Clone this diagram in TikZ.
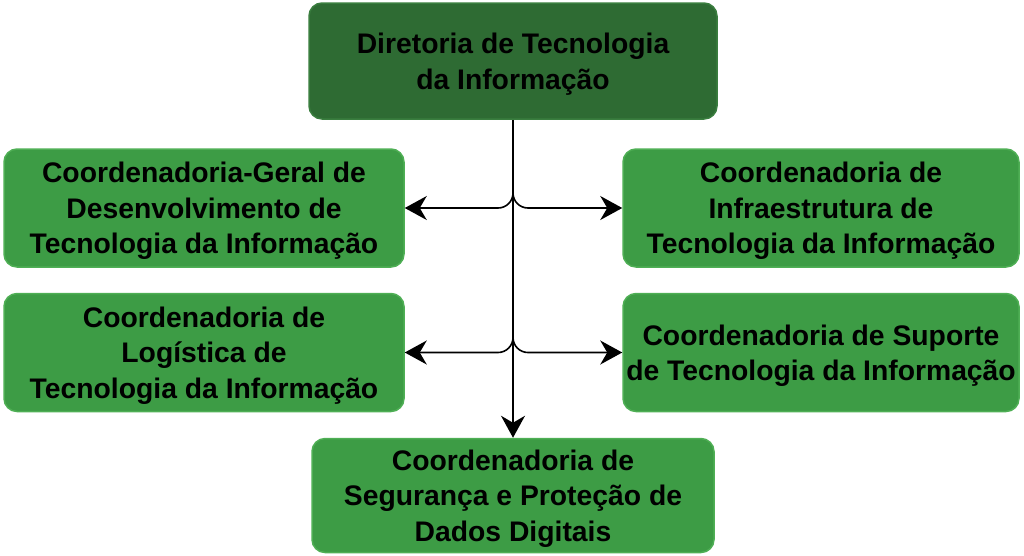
\documentclass[tikz,border=0pt]{standalone}
\usepackage{fontspec}
\setmainfont{Liberation Sans}
\usepackage{xcolor}
\usepackage{tikz}
\usetikzlibrary{positioning,arrows.meta}

\definecolor{verdeesc}{HTML}{2E6B33}
\definecolor{verdeesc2}{HTML}{3A7E3F}
\definecolor{verde}{HTML}{3D9C45}
\definecolor{verde2}{HTML}{4FAF55}

\begin{document}
\begin{tikzpicture}[x=1pt, y=1pt,
  font=\bfseries\fontsize{28.3}{35.5}\selectfont,
  >={Stealth[length=22pt, width=24pt, inset=7pt]},
  dir/.style={draw=verdeesc2, line width=1.5pt, rounded corners=13pt, fill=verdeesc,
              minimum width=408pt, minimum height=116pt, inner sep=2pt, align=center,
              text depth=0pt},
  coord/.style={draw=verde2, line width=1.5pt, rounded corners=13pt, fill=verde,
                minimum width=400pt, minimum height=118pt, inner sep=2pt, align=center,
                text depth=0pt},
  seta/.style={->, line width=1.6pt},
  ramo/.style={->, line width=1.6pt, rounded corners=15pt}]

\useasboundingbox (0,0) rectangle (1024,-555);

\node[dir] (dti) at (513,-61) {Diretoria de Tecnologia\\da Informação};

\node[coord] (cgdti) at (204,-208) {Coordenadoria-Geral de\\Desenvolvimento de\\Tecnologia da Informação};
\node[coord, below=25pt of cgdti] (clog) {Coordenadoria de\\Logística de\\Tecnologia da Informação};
\node[coord, minimum width=396pt] (cinfra) at (821,-208) {Coordenadoria de\\Infraestrutura de\\Tecnologia da Informação};
\node[coord, minimum width=396pt, below=25pt of cinfra] (csup) {Coordenadoria de Suporte\\de Tecnologia da Informação};

\node[coord, minimum width=402pt, minimum height=114pt, below=318pt of dti.south, anchor=north]
  (cseg) {Coordenadoria de\\Segurança e Proteção de\\Dados Digitais};

% tronco
\draw[seta] (dti.south) -- (cseg.north);
% ramos
\coordinate (j1) at (dti.south |- cgdti.east);
\coordinate (j2) at (dti.south |- clog.east);
\draw[ramo] ([yshift=18pt]j1) -- (j1) -- (cgdti.east);
\draw[ramo] ([yshift=18pt]j1) -- (j1) -- (cinfra.west);
\draw[ramo] ([yshift=18pt]j2) -- (j2) -- (clog.east);
\draw[ramo] ([yshift=18pt]j2) -- (j2) -- (csup.west);
\end{tikzpicture}
\end{document}
